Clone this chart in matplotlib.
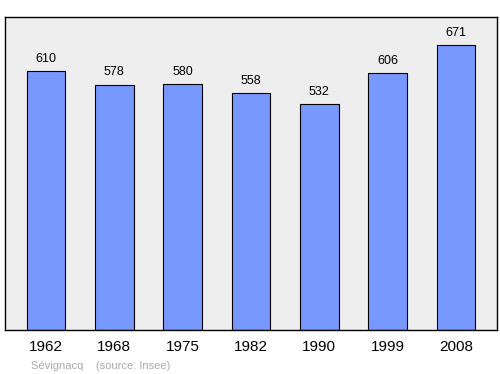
import matplotlib
matplotlib.use("Agg")
import matplotlib.pyplot as plt

plt.rcParams["font.family"] = ["Liberation Sans", "DejaVu Sans"]

years = ["1962", "1968", "1975", "1982", "1990", "1999", "2008"]
population = [610, 578, 580, 558, 532, 606, 671]

fig = plt.figure(figsize=(5, 3.74), dpi=100)
ax = fig.add_axes([5/500, 1-330/374, 492/500, 313/374])
ax.set_facecolor("#eeeeee")
x = list(range(len(years)))
ax.bar(x, population, width=0.57, color="#7799ff", edgecolor="black", linewidth=0.8)
for xi, v in zip(x, population):
    ax.text(xi, v + 15, str(v), ha="center", va="bottom", fontsize=9, color="black")
ax.set_xlim(-0.6, 6.6)
ax.set_ylim(0, 738)
ax.set_yticks([])
ax.set_xticks(x)
ax.set_xticklabels(years, fontsize=11)
ax.tick_params(axis="x", length=0, pad=7)
for s in ax.spines.values():
    s.set_linewidth(1.0)
fig.text(31/500, 1-366/374, "Sévignacq    (source: Insee)", fontsize=8, color="#aaaaaa", va="center")
fig.savefig("out.png", dpi=100)
